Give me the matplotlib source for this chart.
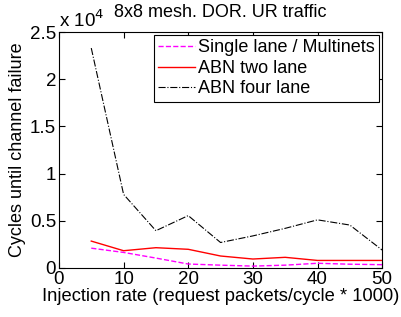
import matplotlib
matplotlib.use("Agg")
import matplotlib.pyplot as plt
import matplotlib.ticker as mticker

plt.rcParams["font.family"] = ["Liberation Sans", "DejaVu Sans"]

# injection rate (request packets/cycle * 1000)
rate = [5, 10, 15, 20, 25, 30, 35, 40, 45, 50]

# cycles until channel failure
single_lane = [2100, 1650, 1050, 420, 300, 200, 300, 500, 400, 350]
abn_two = [2850, 1830, 2150, 1980, 1270, 950, 1130, 800, 800, 800]
abn_four = [23300, 7800, 3950, 5550, 2700, 3400, 4200, 5100, 4550, 1900]

fig = plt.figure(figsize=(4.01, 3.17), dpi=100)
ax = fig.add_axes([0.147, 0.1546, 0.806, 0.7444])

ax.plot(rate, single_lane, color="#ff00ff", linestyle="--", linewidth=1.0,
        label="Single lane / Multinets")
ax.plot(rate, abn_two, color="#ff0000", linestyle="-", linewidth=1.0,
        label="ABN two lane")
ax.plot(rate, abn_four, color="black", linestyle="-.", linewidth=0.8,
        label="ABN four lane")

ax.set_xlim(0, 50)
ax.set_ylim(0, 25000)
ax.set_xticks([0, 10, 20, 30, 40, 50])
ax.set_yticks([0, 5000, 10000, 15000, 20000, 25000])
ax.yaxis.set_major_formatter(mticker.FuncFormatter(lambda y, _: f"{y/1e4:g}"))
ax.tick_params(direction="in", top=True, right=True, labelsize=13.5,
               length=4, width=0.8, pad=2)
for s in ax.spines.values():
    s.set_linewidth(0.8)

ax.text(0.0, 1.005, r"x 10$^4$", transform=ax.transAxes, fontsize=13.5,
        ha="left", va="bottom")
ax.set_title("8x8 mesh. DOR. UR traffic", fontsize=13, pad=11)
ax.set_xlabel("Injection rate (request packets/cycle * 1000)", fontsize=13.2,
              labelpad=0)
ax.set_ylabel("Cycles until channel failure", fontsize=13, labelpad=3)

leg = ax.legend(loc="upper right", fontsize=13, fancybox=False,
                framealpha=1, edgecolor="black", handlelength=2.0,
                handletextpad=0.2, borderpad=0.25, labelspacing=0.2,
                borderaxespad=0.15)
leg.get_frame().set_linewidth(0.8)

fig.savefig("out.png", dpi=100)
